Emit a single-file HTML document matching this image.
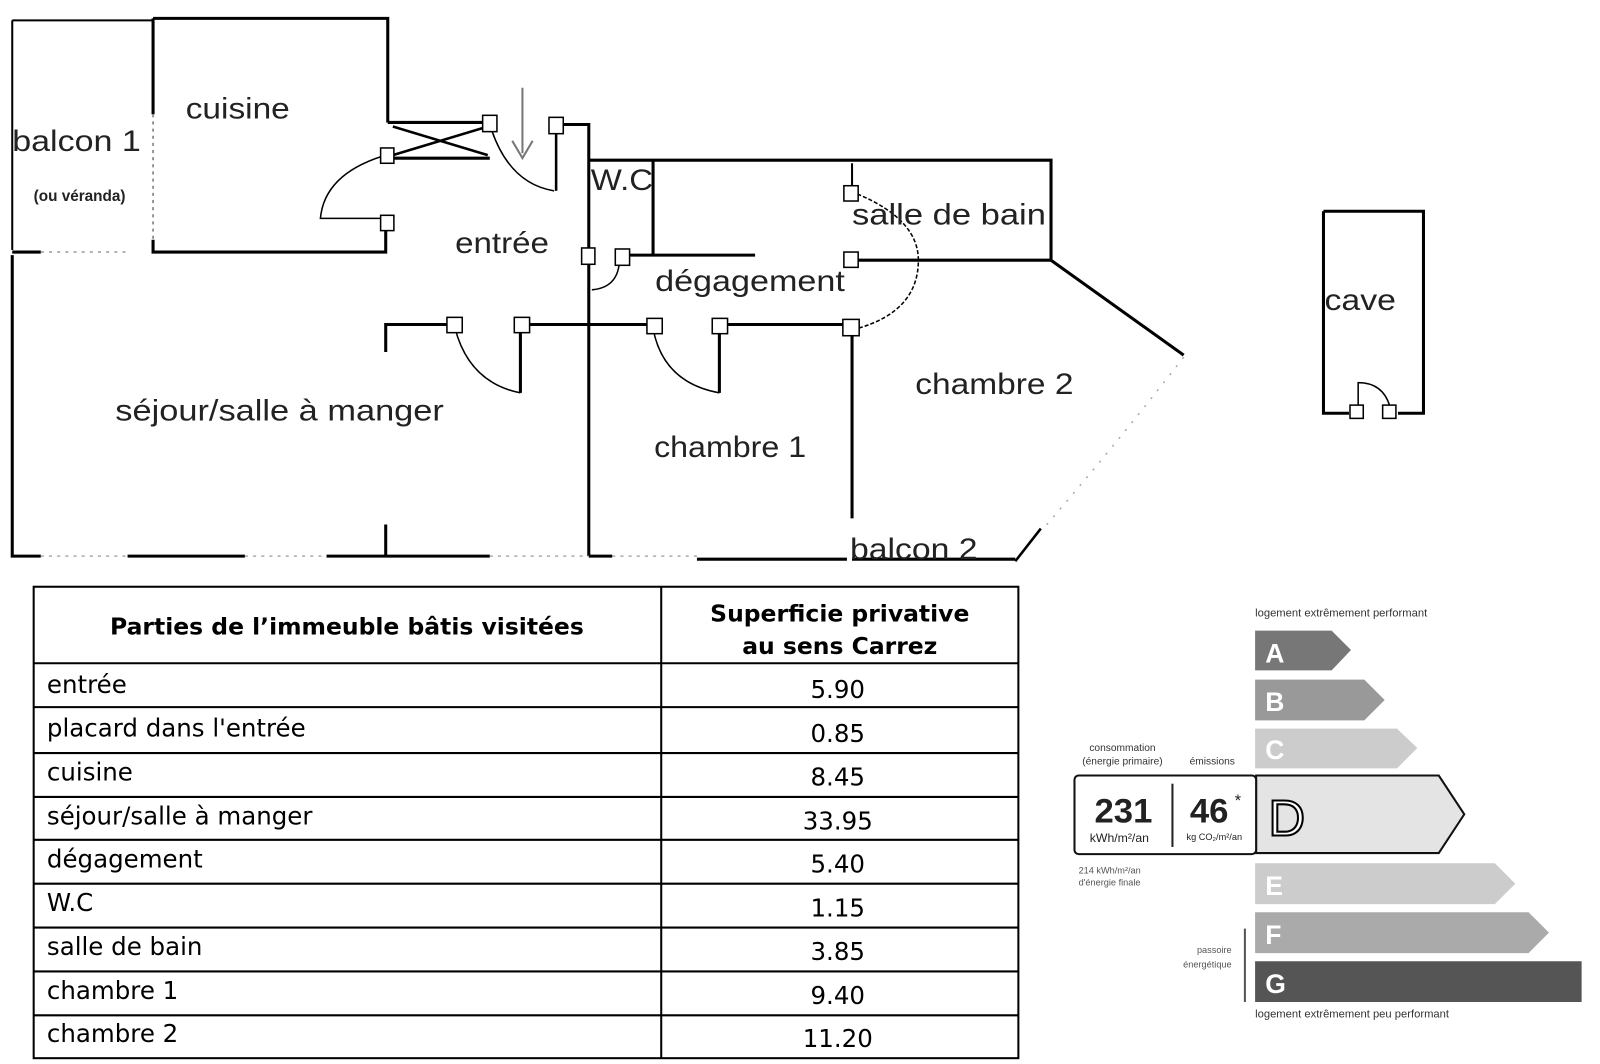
<!DOCTYPE html>
<html><head><meta charset="utf-8"><style>
html,body{margin:0;padding:0;background:#fff;}
body{width:1600px;height:1064px;position:relative;overflow:hidden;font-family:"Liberation Sans",sans-serif;}
svg{position:absolute;left:0;top:0;}
</style></head><body>
<svg width="1600" height="1064" viewBox="0 0 1568 1042.7" preserveAspectRatio="none" xmlns="http://www.w3.org/2000/svg" font-family="Liberation Sans, sans-serif">
<g stroke="#000" stroke-width="3" fill="none">
<path d="M12 20 H150" stroke-width="2"/>
<path d="M12 20 V245" stroke-width="2"/>
<path d="M150 18 H380 V120"/>
<path d="M150 18 V112"/>
<path d="M150 112 V235" stroke-width="1.5" stroke-dasharray="3 4" stroke="#777"/>
<path d="M150 235 V247 H378 V224"/>
<path d="M12 247 H40"/>
<path d="M40 247 H125" stroke-width="1.5" stroke-dasharray="3 5" stroke="#999"/>
<path d="M380 120 H480 M380 155 H480"/>
<path d="M385 124 L478 152 M385 152 L478 124" stroke-width="2.5"/>
<path d="M545 129 V187" stroke-width="2.5"/>
<path d="M551 122 H577 V545"/>
<path d="M577 157 H1030 V255 H840"/>
<path d="M640 157 V250"/>
<path d="M616 250 H740"/>
<path d="M1030 255 L1160 348"/>
<path d="M835 160 V185" stroke-width="2"/>
<path d="M378 345 V318 H440"/>
<path d="M518 318 H636 M712 318 H828"/>
<path d="M510 325 V385 M705 325 V385"/>
<path d="M835 327 V508"/>
<path d="M12 250 V545 H40"/>
<path d="M125 545 H240 M320 545 H480 M683 548 H830 M835 548 H995"/>
<path d="M378 514 V545"/>
<path d="M577 545 H600"/>
<path d="M995 550 L1020 518" stroke-width="2.5"/>
<path d="M40 545 H125 M240 545 H320 M480 545 H577 M600 545 H683" stroke-width="1.5" stroke-dasharray="3 5" stroke="#aaa"/>
<path d="M1160 350 Q1090 440 1025 515" stroke-width="1.5" stroke-dasharray="2 8" stroke="#aaa"/>
<g stroke-width="1.5">
<path d="M378 152 Q318 170 314 214 H378"/>
<path d="M482 128 Q500 180 543 187"/>
<path d="M607 257 Q605 282 580 284"/>
<path d="M446 322 Q460 375 510 385"/>
<path d="M640 322 Q650 375 705 385"/>
<path d="M840 190 Q900 215 900 255 Q900 305 840 322" stroke-dasharray="4 2"/>
</g>
<path d="M1297 207 H1395 V405 H1370 M1322 405 H1297 V207"/>
<path d="M1331 398 V375 Q1355 375 1362 398" stroke-width="1.5"/>
</g>
<g fill="#fff" stroke="#000" stroke-width="1.5">
<rect x="373" y="145" width="13" height="15"/>
<rect x="373" y="211" width="13" height="15"/>
<rect x="473" y="113" width="14" height="16"/>
<rect x="538" y="115" width="14" height="16"/>
<rect x="570" y="243" width="13" height="16"/>
<rect x="603" y="244" width="14" height="16"/>
<rect x="827" y="182" width="14" height="15"/>
<rect x="827" y="247" width="14" height="15"/>
<rect x="438" y="311" width="15" height="15"/>
<rect x="504" y="311" width="15" height="15"/>
<rect x="634" y="312" width="15" height="15"/>
<rect x="698" y="312" width="15" height="15"/>
<rect x="826" y="313" width="16" height="16"/>
<rect x="1323" y="397" width="13" height="13"/>
<rect x="1355" y="397" width="13" height="13"/>
</g>
<path d="M512 86 V150 M502 138 L512 155 L522 138" stroke="#777" stroke-width="2" fill="none"/>
<g font-size="29" fill="#222" lengthAdjust="spacingAndGlyphs">
<text x="182" y="116" textLength="102" lengthAdjust="spacingAndGlyphs">cuisine</text>
<text x="12" y="148" textLength="126" lengthAdjust="spacingAndGlyphs">balcon 1</text>
<text x="446" y="248" textLength="92" lengthAdjust="spacingAndGlyphs">entrée</text>
<text x="579" y="186" textLength="61" lengthAdjust="spacingAndGlyphs">W.C</text>
<text x="835" y="220" textLength="190" lengthAdjust="spacingAndGlyphs">salle de bain</text>
<text x="642" y="285" textLength="186" lengthAdjust="spacingAndGlyphs">dégagement</text>
<text x="113" y="412" textLength="322" lengthAdjust="spacingAndGlyphs">séjour/salle à manger</text>
<text x="897" y="386" textLength="155" lengthAdjust="spacingAndGlyphs">chambre 2</text>
<text x="641" y="448" textLength="149" lengthAdjust="spacingAndGlyphs">chambre 1</text>
<text x="833" y="548" textLength="125" lengthAdjust="spacingAndGlyphs">balcon 2</text>
<text x="1298" y="304" textLength="70" lengthAdjust="spacingAndGlyphs">cave</text>
</g>
<text x="33" y="197" font-size="15" font-weight="bold" fill="#222">(ou véranda)</text>

<g stroke="#000" stroke-width="2" fill="none">
<rect x="33" y="575" width="965" height="462"/>
<path d="M648 575 V1037"/>
<path d="M33 650 H998 M33 693 H998 M33 738 H998 M33 781 H998 M33 823 H998 M33 866 H998 M33 909 H998 M33 952 H998 M33 995 H998"/>
</g>
<g font-family="DejaVu Sans, sans-serif" font-size="24" fill="#000">
<text x="340" y="622" text-anchor="middle" font-weight="bold" font-size="23">Parties de l’immeuble bâtis visitées</text>
<text x="823" y="609" text-anchor="middle" font-weight="bold" font-size="23">Superficie privative</text>
<text x="823" y="641" text-anchor="middle" font-weight="bold" font-size="23">au sens Carrez</text>
<text x="46" y="679">entrée</text><text x="821" y="684" text-anchor="middle">5.90</text>
<text x="46" y="722">placard dans l'entrée</text><text x="821" y="727" text-anchor="middle">0.85</text>
<text x="46" y="765">cuisine</text><text x="821" y="770" text-anchor="middle">8.45</text>
<text x="46" y="808">séjour/salle à manger</text><text x="821" y="813" text-anchor="middle">33.95</text>
<text x="46" y="850">dégagement</text><text x="821" y="855" text-anchor="middle">5.40</text>
<text x="46" y="893">W.C</text><text x="821" y="898" text-anchor="middle">1.15</text>
<text x="46" y="936">salle de bain</text><text x="821" y="941" text-anchor="middle">3.85</text>
<text x="46" y="979">chambre 1</text><text x="821" y="984" text-anchor="middle">9.40</text>
<text x="46" y="1021">chambre 2</text><text x="821" y="1026" text-anchor="middle">11.20</text>
</g>

<text x="1230" y="604" font-size="11" fill="#333">logement extrêmement performant</text>
<polygon points="1230,618 1305,618 1324,637 1305,657 1230,657" fill="#777"/>
<polygon points="1230,666 1337,666 1357,686 1337,706 1230,706" fill="#999"/>
<polygon points="1230,714 1369,714 1389,733 1369,753 1230,753" fill="#ccc"/>
<polygon points="1231,760 1410,760 1435,798 1410,836 1231,836" fill="#e4e4e4" stroke="#111" stroke-width="2"/>
<polygon points="1230,846 1465,846 1485,866 1465,886 1230,886" fill="#ccc"/>
<polygon points="1230,894 1498,894 1518,914 1498,934 1230,934" fill="#aaa"/>
<polygon points="1230,942 1550,942 1550,982 1230,982" fill="#555"/>
<path d="M1220 910 V982" stroke="#555" stroke-width="2"/>
<g font-weight="bold" font-size="26" fill="#fff">
<text x="1240" y="649">A</text><text x="1240" y="697">B</text><text x="1240" y="744">C</text>
<text x="1240" y="877">E</text><text x="1240" y="925">F</text><text x="1240" y="973">G</text>
</g>
<text x="1243" y="819" font-size="50" fill="#fff" stroke="#000" stroke-width="2">D</text>
<rect x="1053" y="760" width="178" height="77" rx="4" fill="#fff" stroke="#111" stroke-width="2"/>
<path d="M1149 768 V830" stroke="#222" stroke-width="2"/>
<text x="1100" y="736" font-size="10" fill="#333" text-anchor="middle">consommation</text>
<text x="1100" y="749" font-size="10" fill="#333" text-anchor="middle">(énergie primaire)</text>
<text x="1188" y="749" font-size="10" fill="#333" text-anchor="middle">émissions</text>
<text x="1101" y="806" font-size="34" font-weight="bold" text-anchor="middle" fill="#222">231</text>
<text x="1097" y="825" font-size="12" text-anchor="middle" fill="#222">kWh/m²/an</text>
<text x="1185" y="806" font-size="34" font-weight="bold" text-anchor="middle" fill="#222">46</text>
<text x="1210" y="790" font-size="16" fill="#222">*</text>
<text x="1190" y="823" font-size="9" text-anchor="middle" fill="#222">kg CO₂/m²/an</text>
<text x="1057" y="856" font-size="9" fill="#555">214 kWh/m²/an</text>
<text x="1057" y="868" font-size="9" fill="#555">d'énergie finale</text>
<text x="1207" y="934" font-size="9" fill="#555" text-anchor="end">passoire</text>
<text x="1207" y="948" font-size="9" fill="#555" text-anchor="end">énergétique</text>
<text x="1230" y="997" font-size="11" fill="#333">logement extrêmement peu performant</text>
</svg>
</body></html>
